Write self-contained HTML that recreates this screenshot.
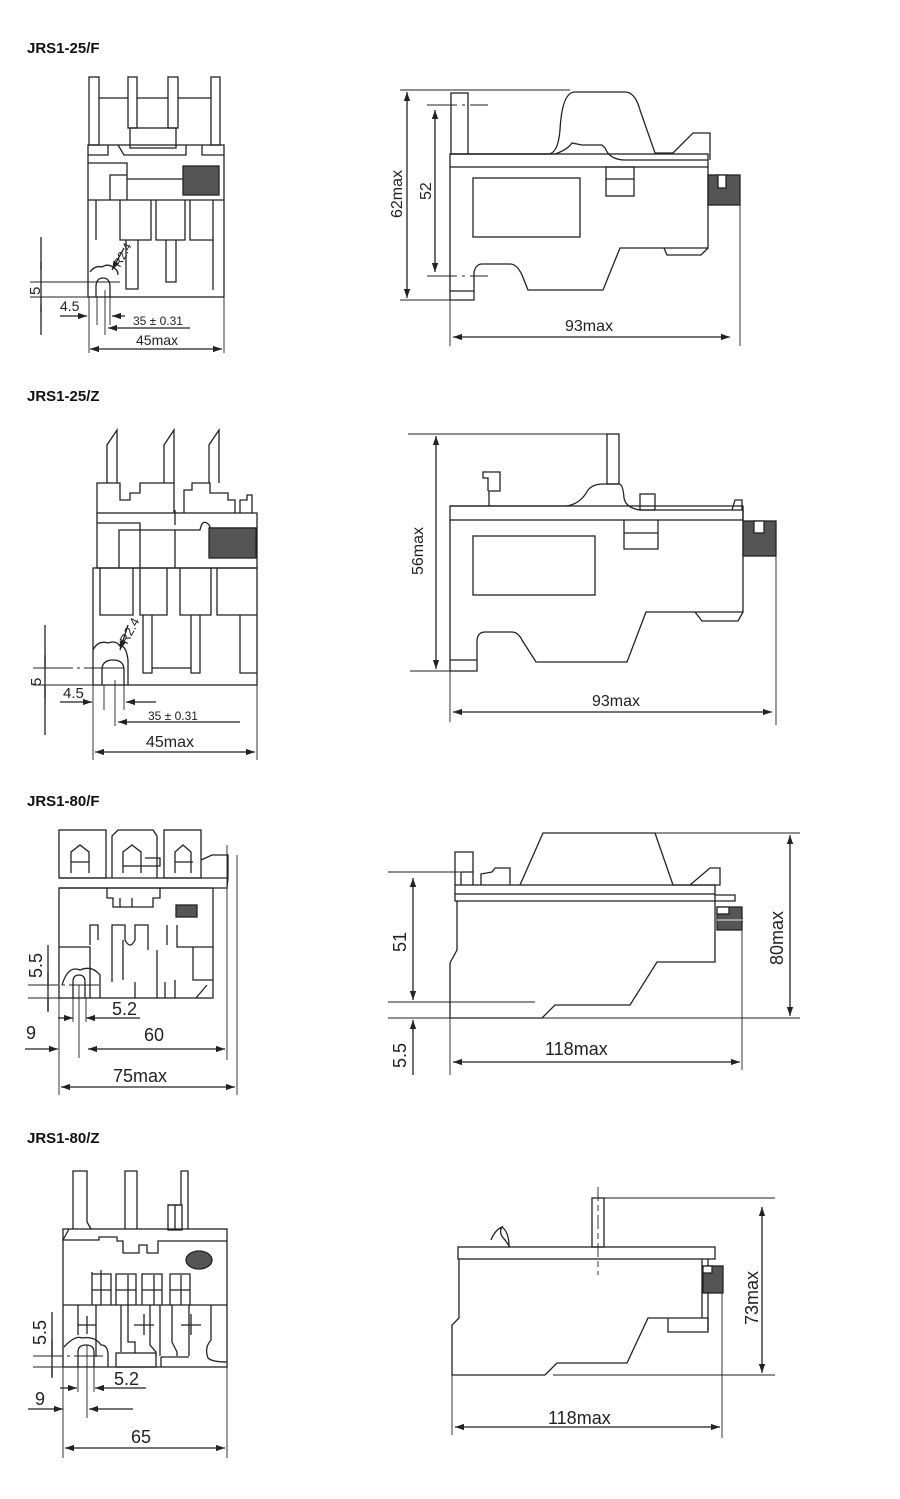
<!DOCTYPE html>
<html><head><meta charset="utf-8"><style>
html,body{margin:0;padding:0;background:#fff}
svg{display:block}
.t{font-family:"Liberation Sans",sans-serif;font-weight:bold;font-size:15px;fill:#111}
.d{font-family:"Liberation Sans",sans-serif;font-size:16px;fill:#222}
.b{font-family:"Liberation Sans",sans-serif;font-size:18px;fill:#222}
.s{font-family:"Liberation Sans",sans-serif;font-size:12px;fill:#222}
</style></head><body>
<svg width="900" height="1499" viewBox="0 0 900 1499" xmlns="http://www.w3.org/2000/svg">
<defs>
<marker id="a" viewBox="0 0 10 10" refX="10" refY="5" markerWidth="9" markerHeight="9" orient="auto-start-reverse" markerUnits="userSpaceOnUse"><path d="M0,1.5 L10,5 L0,8.5z" fill="#222"/></marker>
</defs>
<text class="t" x="27" y="53">JRS1-25/F</text>
<text class="t" x="27" y="401">JRS1-25/Z</text>
<text class="t" x="27" y="806">JRS1-80/F</text>
<text class="t" x="27" y="1143">JRS1-80/Z</text>

<g fill="none" stroke="#222" stroke-width="1.3">
<!-- ===== 1 front ===== -->
<rect x="89" y="77" width="10" height="68"/><rect x="128" y="77" width="9" height="51"/><rect x="168" y="77" width="10" height="51"/><rect x="211" y="77" width="9" height="68"/>
<line x1="99" y1="98" x2="128" y2="98"/><line x1="178" y1="98" x2="211" y2="98"/><line x1="137" y1="98" x2="168" y2="98"/>
<rect x="130" y="128" width="46" height="20"/>
<rect x="88" y="145" width="136" height="152"/>
<path d="M88,155 H108 V145 M118,145 L124,155 H186 V145 M202,145 V155 H224"/>
<path d="M88,163 H127 V200 M110,200 V175 H127 M127,179 H183"/>
<rect x="183" y="166" width="36" height="29" fill="#555"/>
<line x1="88" y1="200" x2="224" y2="200"/>
<path d="M96,200 V240 M120,200 V240 H151 V200 M156,200 V240 H185 V200 M190,200 V240 H213 V200"/>
<path d="M126,240 V289 H138 V240 M166,240 V282 H176 V240 M213,240 V290"/>
<path d="M96,297 V285 Q97,278 103,278 Q109,278 110,285 V297 M90,272 Q95,265 102,267 Q108,263 114,268 Q118,270 118,275"/>
<line x1="41" y1="237" x2="41" y2="335"/>
<line x1="30" y1="282" x2="120" y2="282" stroke-width="0.9"/>
<line x1="30" y1="297" x2="88" y2="297" stroke-width="0.9"/>
<line x1="60" y1="316" x2="87" y2="316" marker-end="url(#a)"/>
<line x1="125" y1="316" x2="112" y2="316" marker-end="url(#a)"/>
<line x1="97" y1="297" x2="97" y2="325" stroke-width="0.9"/><line x1="110" y1="297" x2="110" y2="325" stroke-width="0.9"/>
<line x1="105" y1="290" x2="105" y2="335" stroke-width="0.9"/>
<line x1="190" y1="328" x2="108" y2="328" marker-end="url(#a)"/>
<line x1="89" y1="297" x2="89" y2="353" stroke-width="0.9"/><line x1="224" y1="297" x2="224" y2="353" stroke-width="0.9"/>
<line x1="90" y1="349" x2="222" y2="349" marker-start="url(#a)" marker-end="url(#a)"/>
<line x1="124" y1="248" x2="112" y2="270" marker-end="url(#a)"/>
<path d="M41,262 V270 M41,312 V305" />

<!-- ===== 1 side ===== -->
<rect x="451" y="93" width="17" height="61"/>
<path d="M468,154 H548 Q558,154 560,130 Q562,92 575,92 H625 Q635,92 640,110 L655,153 H673 L693,133 H710 V160"/>
<path d="M450,154 H555 Q567,150 572,143 L582,145 H602 L605,148 Q610,160 625,160 H708"/>
<rect x="450" y="154" width="258" height="13" fill="none"/>
<path d="M450,167 V300 H474 V272 Q476,264 482,264 H510 Q517,264 522,275 L528,290 H603 L620,248 H708 V167"/>
<path d="M664,248 L667,255 H701 L708,248"/>
<rect x="473" y="178" width="107" height="59"/>
<rect x="606" y="167" width="28" height="29"/><line x1="606" y1="179" x2="634" y2="179"/>
<line x1="450" y1="291" x2="474" y2="291"/>
<rect x="708" y="175" width="32" height="30" fill="#555" stroke="#222"/>
<rect x="718" y="175" width="8" height="13" fill="#fff"/>
<line x1="400" y1="90" x2="570" y2="90" stroke-width="0.9"/>
<line x1="400" y1="300" x2="450" y2="300" stroke-width="0.9"/>
<line x1="427" y1="105" x2="488" y2="105" stroke-width="0.9" stroke-dasharray="30,5,3,5"/>
<line x1="427" y1="276" x2="488" y2="276" stroke-width="0.9" stroke-dasharray="30,5,3,5"/>
<line x1="407" y1="92" x2="407" y2="298" marker-start="url(#a)" marker-end="url(#a)"/>
<line x1="435" y1="110" x2="435" y2="272" marker-start="url(#a)" marker-end="url(#a)"/>
<line x1="450" y1="300" x2="450" y2="346" stroke-width="0.9"/>
<line x1="740" y1="205" x2="740" y2="346" stroke-width="0.9"/>
<line x1="453" y1="337" x2="730" y2="337" marker-start="url(#a)" marker-end="url(#a)"/>

<!-- ===== 2 front ===== -->
<path d="M107,483 V445 L117,430 V483 M164,483 V445 L174,430 V483 M209,483 V445 L219,430 V483"/>
<path d="M97,513 V483 H120 V500 H130 V493 H140 V483 H174 V513 M184,513 V490 H192 V483 H210 V493 H228 V500 H235 V513 M240,513 V500 H247 V495 H252 V513"/>
<rect x="97" y="513" width="160" height="55"/>
<path d="M97,523 H140 V568 M119,568 V530 H140 M140,530 H200 Q202,520 207,523 Q210,525 210,528 H257 M175,530 V568 M175,525 V510"/>
<rect x="209" y="528" width="47" height="30" fill="#555"/>
<rect x="93" y="568" width="164" height="117"/>
<path d="M100,568 V615 H133 V568 M140,568 V615 H167 V568 M180,568 V615 H211 V568 M217,568 V615 H257"/>
<path d="M143,615 V673 H152 V615 M191,615 V673 H200 V615 M240,615 V673 H257 M152,668 H191"/>
<path d="M102,685 V670 Q102,660 113,660 Q124,660 124,670 V685 M93,650 Q98,640 108,643 Q116,640 120,646 Q126,645 128,660 V685"/>
<line x1="128" y1="625" x2="120" y2="650" marker-end="url(#a)"/>
<line x1="45" y1="625" x2="45" y2="735"/>
<line x1="33" y1="668" x2="128" y2="668" stroke-width="0.9" stroke-dasharray="40,4,3,4"/>
<line x1="33" y1="685" x2="93" y2="685" stroke-width="0.9"/>
<path d="M45,655 V667 M45,698 V686"/>
<line x1="60" y1="702" x2="92" y2="702" marker-end="url(#a)"/>
<line x1="156" y1="702" x2="126" y2="702" marker-end="url(#a)"/>
<line x1="104" y1="685" x2="104" y2="710" stroke-width="0.9"/><line x1="124" y1="685" x2="124" y2="710" stroke-width="0.9"/>
<line x1="115" y1="680" x2="115" y2="726" stroke-width="0.9"/>
<line x1="240" y1="722" x2="118" y2="722" marker-end="url(#a)"/>
<line x1="93" y1="685" x2="93" y2="760" stroke-width="0.9"/><line x1="257" y1="685" x2="257" y2="760" stroke-width="0.9"/>
<line x1="95" y1="752" x2="255" y2="752" marker-start="url(#a)" marker-end="url(#a)"/>

<!-- ===== 2 side ===== -->
<rect x="607" y="434" width="12" height="50"/>
<path d="M450,506 H565 Q580,505 588,490 Q593,484 603,484 H619 Q623,484 624,498 Q626,508 640,510 H743 V520"/>
<path d="M489,506 V491 H500 V472 H483 V478 H488 V491"/>
<rect x="640" y="494" width="15" height="16"/>
<path d="M732,510 L735,500 H742 V510"/>
<rect x="450" y="506" width="293" height="14"/>
<path d="M450,520 V671 H477 V640 Q478,632 485,632 H512 Q518,632 522,640 L536,662 H627 L646,612 H743 V520"/>
<path d="M695,612 L702,621 H738 L743,612"/>
<line x1="450" y1="660" x2="477" y2="660"/>
<rect x="473" y="536" width="122" height="59"/>
<path d="M624,520 V549 H658 V520 M624,533 H658"/>
<rect x="743" y="521" width="33" height="35" fill="#555"/>
<rect x="754" y="521" width="10" height="12" fill="#fff"/>
<line x1="408" y1="434" x2="618" y2="434" stroke-width="0.9"/>
<line x1="410" y1="671" x2="450" y2="671" stroke-width="0.9"/>
<line x1="436" y1="436" x2="436" y2="669" marker-start="url(#a)" marker-end="url(#a)"/>
<line x1="450" y1="671" x2="450" y2="722" stroke-width="0.9"/>
<line x1="776" y1="556" x2="776" y2="725" stroke-width="0.9"/>
<line x1="453" y1="712" x2="772" y2="712" marker-start="url(#a)" marker-end="url(#a)"/>

<!-- ===== 3 front ===== -->
<rect x="59" y="830" width="47" height="48"/>
<path d="M112,878 V836 L118,830 H153 L157,836 V878"/>
<rect x="164" y="830" width="37" height="48"/>
<path d="M71,873 V852 L80,845 L89,852 V873 M71,862 H89 M123,873 V852 L132,845 L141,852 V873 M123,866 H160 V858 H145 M175,873 V852 L183,845 L191,852 V873 M175,862 H193"/>
<path d="M201,860 L212,855 H228 V878 L227,888 L213,888"/>
<line x1="59" y1="878" x2="228" y2="878"/>
<line x1="59" y1="888" x2="213" y2="888"/>
<rect x="59" y="888" width="154" height="110"/>
<path d="M107,888 V898 H113 V907 H153 V898 H160 V888 M120,898 V907 M132,898 V907"/>
<rect x="176" y="905" width="21" height="12" fill="#555"/>
<path d="M90,945 V925 H98 V940 M112,945 V925 H125 V940 Q130,950 135,940 V925 H148 V950 M167,925 V945 M177,925 V947 H213"/>
<path d="M59,947 H90 V998 M112,945 V982 M123,940 V980 M135,982 V998 M157,950 V998 M165,982 V998 M193,947 V980 H213 M175,980 V998 M196,998 L207,985"/>
<path d="M62,985 Q68,965 80,970 Q92,965 100,975 V998 M73,998 V982 Q73,975 79,975 Q85,975 85,982 V998"/>
<line x1="227" y1="845" x2="227" y2="1060" stroke-width="0.9"/>
<line x1="237" y1="855" x2="237" y2="1095" stroke-width="0.9"/>
<line x1="48" y1="945" x2="48" y2="1012"/>
<line x1="28" y1="985" x2="100" y2="985" stroke-width="0.9" stroke-dasharray="30,4,3,4"/>
<line x1="28" y1="998" x2="59" y2="998" stroke-width="0.9"/>
<path d="M48,972 V984 M48,1010 V999"/>
<line x1="58" y1="1018" x2="73" y2="1018" marker-end="url(#a)"/>
<line x1="140" y1="1018" x2="86" y2="1018" marker-end="url(#a)"/>
<line x1="73" y1="998" x2="73" y2="1022" stroke-width="0.9"/><line x1="86" y1="998" x2="86" y2="1022" stroke-width="0.9"/>
<line x1="79" y1="985" x2="79" y2="1058" stroke-width="0.9"/>
<line x1="25" y1="1049" x2="58" y2="1049" marker-end="url(#a)"/>
<line x1="88" y1="1049" x2="225" y2="1049" marker-start="url(#a)" marker-end="url(#a)"/>
<line x1="59" y1="998" x2="59" y2="1095" stroke-width="0.9"/>
<line x1="61" y1="1087" x2="235" y2="1087" marker-start="url(#a)" marker-end="url(#a)"/>

<!-- ===== 3 side ===== -->
<path d="M455,885 V852 H473 V885 M461,885 V872 H473 M481,885 V874 L492,872 L495,868 H510 V885 M520,885 L543,833 H655 L673,885 H690 L710,868 H720 V885 H690"/>
<rect x="455" y="885" width="260" height="9"/>
<path d="M455,894 V901 H715 V894 M715,895 H735 V901 H715"/>
<path d="M457,901 V950 L450,963 V1018 H542 L555,1005 H630 L657,962 H715 V901"/>
<rect x="717" y="907" width="25" height="23" fill="#555"/>
<rect x="717" y="907" width="12" height="7" fill="#fff"/>
<line x1="717" y1="920" x2="742" y2="920" stroke="#ccc"/>
<line x1="388" y1="872" x2="460" y2="872" stroke-width="0.9"/>
<line x1="388" y1="1002" x2="535" y2="1002" stroke-width="0.9"/>
<line x1="388" y1="1018" x2="800" y2="1018" stroke-width="0.9"/>
<line x1="655" y1="833" x2="800" y2="833" stroke-width="0.9"/>
<line x1="413" y1="878" x2="413" y2="1000" marker-start="url(#a)" marker-end="url(#a)"/>
<line x1="790" y1="835" x2="790" y2="1016" marker-start="url(#a)" marker-end="url(#a)"/>
<line x1="413" y1="1020" x2="413" y2="1075" marker-start="url(#a)"/>
<line x1="450" y1="1018" x2="450" y2="1075" stroke-width="0.9"/>
<line x1="742" y1="930" x2="742" y2="1070" stroke-width="0.9"/>
<line x1="453" y1="1062" x2="740" y2="1062" marker-start="url(#a)" marker-end="url(#a)"/>

<!-- ===== 4 front ===== -->
<path d="M73,1229 V1171 H87 V1222 L91,1229 M125,1229 V1171 H137 V1229 M175,1229 V1205 H181 V1171 H188 V1229 M168,1205 H181"/>
<rect x="168" y="1205" width="14" height="25"/>
<rect x="63" y="1229" width="164" height="138"/>
<path d="M63,1240 L69,1229 M63,1240 H99 V1237 H117 V1241 H123 V1253 H139 V1245 H147 V1253 H158 V1241 H227"/>
<ellipse cx="199" cy="1260" rx="13" ry="9" fill="#555"/>
<path d="M92,1305 V1272 M92,1274 H111 V1305 M92,1290 H111 M116,1305 V1274 H136 V1305 M116,1290 H136 M142,1305 V1274 H162 V1305 M142,1290 H162 M170,1305 V1274 H190 V1305 M170,1290 H190 M101,1270 V1305 M128,1275 V1305 M154,1275 V1305 M181,1275 V1305"/>
<line x1="63" y1="1305" x2="227" y2="1305"/>
<path d="M78,1305 V1335 M96,1305 V1357 M121,1305 V1352 M128,1305 V1342 H135 V1353 M150,1305 V1345 L156,1352 V1356 M160,1305 V1356 M172,1305 V1342 L177,1352 V1356 M189,1305 V1356 M211,1305 V1340 Q204,1348 208,1358 Q212,1362 227,1362"/>
<rect x="116" y="1353" width="40" height="14"/>
<path d="M161,1357 H189 M161,1367 V1357"/>
<path d="M78,1325 H96 M87,1316 V1334 M134,1325 H154 M144,1314 V1335 M181,1325 H201 M191,1314 V1335"/>
<path d="M64,1347 Q75,1335 82,1338 Q95,1336 101,1345 Q108,1345 108,1355 V1367 M78,1367 V1352 Q78,1345 86,1345 Q94,1345 94,1352 V1367"/>
<line x1="52" y1="1312" x2="52" y2="1378"/>
<line x1="33" y1="1356" x2="103" y2="1356" stroke-width="0.9" stroke-dasharray="30,4,3,4"/>
<line x1="33" y1="1367" x2="63" y2="1367" stroke-width="0.9"/>
<path d="M52,1340 V1355 M52,1376 V1368"/>
<line x1="60" y1="1388" x2="77" y2="1388" marker-end="url(#a)"/>
<line x1="146" y1="1388" x2="95" y2="1388" marker-end="url(#a)"/>
<line x1="78" y1="1367" x2="78" y2="1392" stroke-width="0.9"/><line x1="94" y1="1367" x2="94" y2="1392" stroke-width="0.9"/>
<line x1="87" y1="1345" x2="87" y2="1418" stroke-width="0.9"/>
<line x1="28" y1="1409" x2="63" y2="1409" marker-end="url(#a)"/>
<line x1="133" y1="1409" x2="89" y2="1409" marker-end="url(#a)"/>
<line x1="63" y1="1367" x2="63" y2="1458" stroke-width="0.9"/><line x1="227" y1="1367" x2="227" y2="1458" stroke-width="0.9"/>
<line x1="65" y1="1448" x2="225" y2="1448" marker-start="url(#a)" marker-end="url(#a)"/>

<!-- ===== 4 side ===== -->
<rect x="592" y="1198" width="12" height="49"/>
<line x1="598" y1="1187" x2="598" y2="1275" stroke-width="0.9" stroke-dasharray="14,4,6,4"/>
<path d="M491,1240 Q495,1230 502,1227 Q498,1233 505,1240 L510,1247 M502,1227 Q509,1232 509,1247"/>
<rect x="458" y="1247" width="257" height="12"/>
<path d="M459,1259 V1318 L452,1325 V1375 H545 L557,1363 H627 L648,1318 H702 V1259 M702,1318 H708 V1332 H668 V1318"/>
<line x1="708" y1="1259" x2="708" y2="1330"/>
<line x1="553" y1="1375" x2="775" y2="1375" stroke-width="0.9"/>
<rect x="703" y="1266" width="20" height="27" fill="#555"/>
<rect x="703" y="1266" width="9" height="7" fill="#fff"/>
<line x1="604" y1="1198" x2="775" y2="1198" stroke-width="0.9"/>
<line x1="762" y1="1207" x2="762" y2="1373" marker-start="url(#a)" marker-end="url(#a)"/>
<line x1="452" y1="1375" x2="452" y2="1435" stroke-width="0.9"/>
<line x1="722" y1="1293" x2="722" y2="1438" stroke-width="0.9"/>
<line x1="455" y1="1427" x2="720" y2="1427" marker-start="url(#a)" marker-end="url(#a)"/>
</g>

<text class="d" transform="translate(40,295) rotate(-90)" style="font-size:15px">5</text>
<text class="d" x="60" y="311" style="font-size:14px">4.5</text>
<text class="s" x="133" y="325">35 ± 0.31</text>
<text class="d" x="136" y="345" style="font-size:14px">45max</text>
<text class="s" transform="translate(120,268) rotate(-62)">R2.4</text>
<text class="d" transform="translate(402,218) rotate(-90)">62max</text>
<text class="d" transform="translate(431,200) rotate(-90)">52</text>
<text class="d" x="565" y="331">93max</text>

<text class="d" transform="translate(41,686) rotate(-90)" style="font-size:15px">5</text>
<text class="d" x="63" y="698" style="font-size:15px">4.5</text>
<text class="s" x="148" y="720">35 ± 0.31</text>
<text class="d" x="146" y="747">45max</text>
<text class="s" transform="translate(127,645) rotate(-62)" style="font-size:13px">R2.4</text>
<text class="d" transform="translate(423,575) rotate(-90)">56max</text>
<text class="d" x="592" y="706">93max</text>

<text class="b" transform="translate(42,978) rotate(-90)">5.5</text>
<text class="b" x="112" y="1015">5.2</text>
<text class="b" x="26" y="1039">9</text>
<text class="b" x="144" y="1041">60</text>
<text class="b" x="113" y="1082">75max</text>
<text class="b" transform="translate(406,952) rotate(-90)">51</text>
<text class="b" transform="translate(783,965) rotate(-90)">80max</text>
<text class="b" transform="translate(406,1068) rotate(-90)">5.5</text>
<text class="b" x="545" y="1055">118max</text>

<text class="b" transform="translate(46,1345) rotate(-90)">5.5</text>
<text class="b" x="114" y="1385">5.2</text>
<text class="b" x="35" y="1405">9</text>
<text class="b" x="131" y="1443">65</text>
<text class="b" transform="translate(758,1325) rotate(-90)">73max</text>
<text class="b" x="548" y="1424">118max</text>
</svg>
</body></html>
